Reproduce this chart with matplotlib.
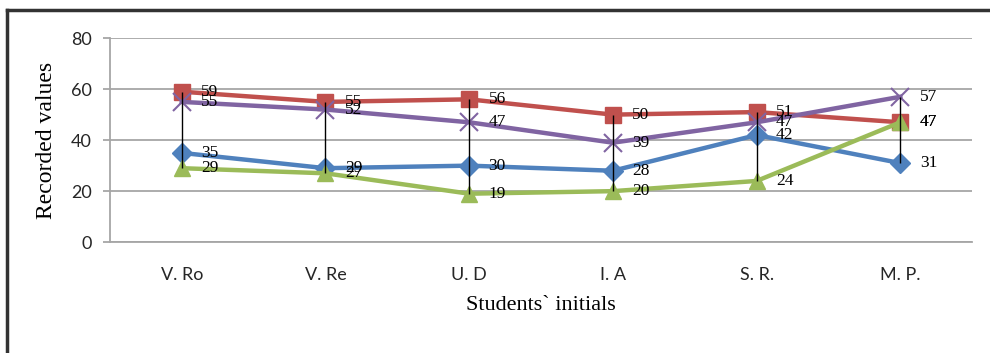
import matplotlib
matplotlib.use("Agg")
import matplotlib.pyplot as plt
from matplotlib.lines import Line2D

students = ["V. Ro", "V. Re", "U. D", "I. A", "S. R.", "M. P."]
series_blue = [35, 29, 30, 28, 42, 31]
series_red = [59, 55, 56, 50, 51, 47]
series_green = [29, 27, 19, 20, 24, 47]
series_purple = [55, 52, 47, 39, 47, 57]
y_ticks = [0, 20, 40, 60, 80]

fig = plt.figure(figsize=(9.9, 3.53), dpi=100)
ax = fig.add_axes([0.111, 0.314, 0.871, 0.578])

x = list(range(len(students)))
styles = [
    (series_blue, "#4F81BD", "D", 10),
    (series_red, "#C0504D", "s", 11),
    (series_green, "#9BBB59", "^", 12),
    (series_purple, "#8064A2", "x", 13),
]
for vals, col, mk, ms in styles:
    kw = dict(markeredgewidth=1.5) if mk == "x" else dict(markeredgecolor=col)
    ax.plot(x, vals, color=col, lw=3.2, marker=mk, markersize=ms,
            markerfacecolor=col, zorder=3, **kw)
    for xi, v in zip(x, vals):
        ax.annotate(str(v), (xi, v), xytext=(14, 0), textcoords="offset points",
                    ha="left", va="center", fontsize=12.5,
                    family="Liberation Serif", color="black", zorder=5)

# high-low lines across all series
all_series = [s[0] for s in styles]
for xi in x:
    col_vals = [s[xi] for s in all_series]
    ax.vlines(xi, min(col_vals), max(col_vals), color="black", lw=1.0, zorder=4)

ax.set_xlim(-0.5, len(students) - 0.5)
ax.set_ylim(0, 80)
ax.set_yticks(y_ticks)
ax.set_xticks(x)
ax.set_xticklabels(students)
ax.yaxis.grid(True, color="#A6A6A6", lw=1.3)
ax.set_axisbelow(True)
for s in ["top", "right"]:
    ax.spines[s].set_visible(False)
ax.spines["left"].set_color("#A6A6A6")
ax.spines["left"].set_linewidth(1.3)
ax.spines["bottom"].set_color("#A6A6A6")
ax.spines["bottom"].set_linewidth(1.3)
ax.tick_params(axis="y", length=5, color="#A6A6A6", width=1.3, pad=8,
               labelsize=13, labelcolor="#262626")
ax.tick_params(axis="x", length=0, pad=18, labelsize=13, labelcolor="#262626")
for lab in ax.get_xticklabels() + ax.get_yticklabels():
    lab.set_family("Lato")

ax.set_ylabel("Recorded values", family="Liberation Serif", fontsize=17, labelpad=10)
ax.set_xlabel("Students` initials", family="Liberation Serif", fontsize=16, labelpad=9)

# outer frame
fig.add_artist(Line2D([0.007, 0.007], [0.0, 0.972], transform=fig.transFigure,
                      color="#333333", lw=2.5))
fig.add_artist(Line2D([0.007, 1.0], [0.972, 0.972], transform=fig.transFigure,
                      color="#333333", lw=2.5))

fig.savefig("out.png", dpi=100)
